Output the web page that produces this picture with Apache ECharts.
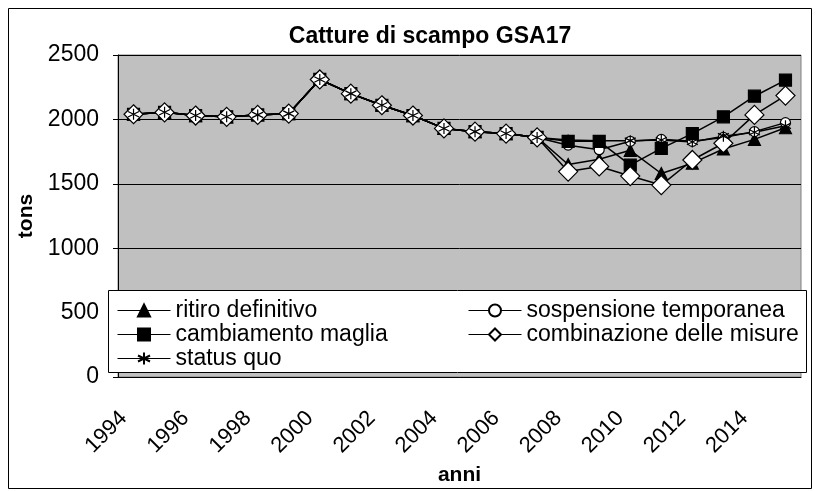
<!DOCTYPE html>
<html>
<head>
<meta charset="utf-8">
<script src="https://cdn.jsdelivr.net/npm/echarts@6/dist/echarts.min.js"></script>
<style>
html,body{margin:0;padding:0;background:#fff;}
#chart{width:818px;height:491px;}
</style>
</head>
<body>
<div id="chart"></div>
<script>
// dati
const anni = ['1994','1995','1996','1997','1998','1999','2000','2001','2002','2003','2004',
  '2005','2006','2007','2008','2009','2010','2011','2012','2013','2014','2015'];
// valori comuni fino al 2007
const storico = [2040, 2055, 2030, 2020, 2035, 2045, 2310, 2200, 2110, 2030, 1930, 1905, 1890, 1860];
const ritiroDefinitivo = [1650, 1690, 1760, 1580, 1660, 1770, 1845, 1935];
const sospensioneTemporanea = [1800, 1765, 1830, 1845, 1830, 1860, 1905, 1975];
const cambiamentoMaglia = [1830, 1830, 1645, 1775, 1890, 2020, 2180, 2305];
const combinazioneMisure = [1595, 1635, 1560, 1490, 1685, 1815, 2035, 2185];
const statusQuo = [1840, 1835, 1835, 1840, 1825, 1870, 1900, 1950];

const font = '"Liberation Sans", Arial, sans-serif';
const asterisco = 'path://M5,0L5,10M0.7,2.5L9.3,7.5M0.7,7.5L9.3,2.5';

let $chart = echarts.init(document.getElementById('chart'));

function serie(nome, coda, symbol, size, fill, extra) {
  return Object.assign({
    name: nome,
    type: 'line',
    data: storico.concat(coda),
    symbol: symbol,
    symbolSize: size,
    lineStyle: {color: '#000', width: 1.5},
    itemStyle: {color: fill, borderColor: '#000', borderWidth: 1.2},
    emphasis: {disabled: true},
    animation: false
  }, extra || {});
}

const legendaBase = {
  z: 60, orient: 'vertical', top: 294, itemGap: 1,
  itemWidth: 53, itemHeight: 15,
  lineStyle: {width: 1},
  textStyle: {fontFamily: font, fontSize: 23, color: '#000', lineHeight: 22}
};

const option = {
  animation: false,
  textStyle: {fontFamily: font, color: '#000'},
  title: {
    text: 'Catture di scampo GSA17',
    left: 425, top: 20, textAlign: 'center',
    textStyle: {fontFamily: font, fontSize: 23, fontWeight: 'bold', color: '#000'}
  },
  grid: {
    left: 118, right: 17, top: 55, bottom: 114,
    show: true, backgroundColor: '#c0c0c0', borderColor: '#808080', borderWidth: 1
  },
  graphic: [
    {type: 'rect', z: -10, shape: {x: 8.5, y: 8.5, width: 803, height: 480},
      style: {fill: 'none', stroke: '#000', lineWidth: 1}},
    {type: 'rect', z: 50, shape: {x: 108.5, y: 290.5, width: 698, height: 82},
      style: {fill: '#fff', stroke: '#000', lineWidth: 1}}
  ],
  legend: [
    Object.assign({}, legendaBase, {
      left: 112,
      data: ['ritiro definitivo', 'cambiamento maglia', 'status quo']
    }),
    Object.assign({}, legendaBase, {
      left: 463,
      data: ['sospensione temporanea', 'combinazione delle misure']
    })
  ],
  xAxis: {
    type: 'category',
    data: anni,
    boundaryGap: true,
    name: 'anni',
    nameLocation: 'middle',
    nameGap: 88,
    nameTextStyle: {fontFamily: font, fontSize: 21, fontWeight: 'bold', color: '#000'},
    axisLine: {lineStyle: {color: '#000', width: 1}},
    axisTick: {interval: 0, length: 6, lineStyle: {color: '#000'}},
    axisLabel: {interval: 1, rotate: 45, margin: 28, padding: [0, 14, 0, 0],
      fontSize: 22, color: '#000', fontFamily: font}
  },
  yAxis: {
    type: 'value',
    min: 0, max: 2500, interval: 500,
    name: 'tons',
    nameLocation: 'middle',
    nameGap: 78,
    nameTextStyle: {fontFamily: font, fontSize: 21, fontWeight: 'bold', color: '#000'},
    axisLine: {show: true, lineStyle: {color: '#000', width: 1}},
    axisTick: {show: true, length: 5, lineStyle: {color: '#000'}},
    axisLabel: {margin: 19, fontSize: 23, color: '#000', fontFamily: font,
      formatter: v => String(v)},
    splitLine: {lineStyle: {color: '#000', width: 1}}
  },
  series: [
    serie('ritiro definitivo', ritiroDefinitivo, 'triangle', 12, '#000'),
    serie('sospensione temporanea', sospensioneTemporanea, 'circle', 10, '#fff'),
    serie('cambiamento maglia', cambiamentoMaglia, 'rect', 12, '#000'),
    serie('combinazione delle misure', combinazioneMisure, 'diamond', 19, '#fff'),
    serie('status quo', statusQuo, asterisco, 11, 'none', {itemStyle: {color: 'none', borderColor: '#000', borderWidth: 1.2}})
  ]
};

$chart.setOption(option, true);
</script>
</body>
</html>
